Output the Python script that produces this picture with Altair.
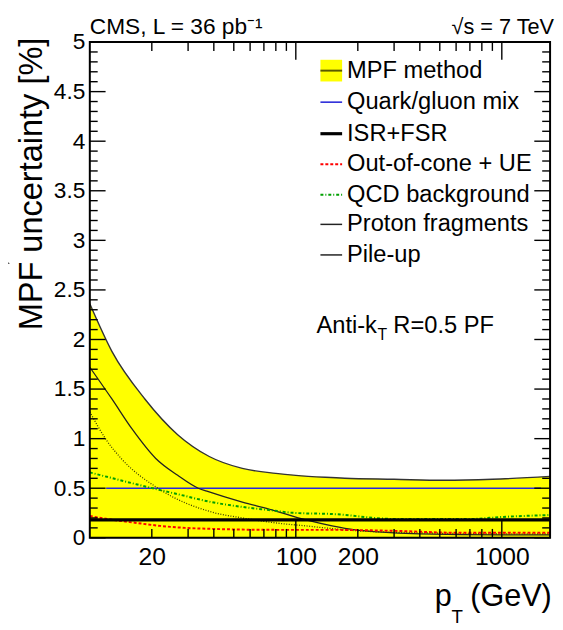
import altair as alt
import pandas as pd

FONT = "Liberation Sans"
W, H = 467, 503

# ---- data ----
band_pt = [10, 12.8, 18.5, 26.7, 38, 55, 80, 100, 139, 173, 300, 520, 900, 1715]
band_val = [2.36, 1.88, 1.40, 1.04, 0.82, 0.70, 0.65, 0.63, 0.61, 0.60, 0.59, 0.58, 0.59, 0.62]

qg_pt = [12, 1550]
qg_val = [0.50, 0.50]

isr_pt = [10, 1715]
isr_val = [0.18, 0.18]

ooc_pt = [10, 13, 16.8, 22, 29, 39, 80, 150, 300, 630, 1715]
ooc_val = [0.22, 0.18, 0.15, 0.12, 0.10, 0.09, 0.08, 0.08, 0.07, 0.05, 0.05]

qcd_pt = [10, 16.8, 26.7, 39, 55.6, 74, 100, 150, 300, 700, 1000, 1715]
qcd_val = [0.66, 0.54, 0.44, 0.36, 0.31, 0.28, 0.25, 0.24, 0.19, 0.19, 0.21, 0.23]

proton_pt = [10, 12.8, 16, 20.9, 26.7, 33.6, 37, 55, 74, 112, 150, 194, 250, 400, 1000, 1715]
proton_val = [1.72, 1.40, 1.10, 0.80, 0.63, 0.50, 0.47, 0.36, 0.29, 0.18, 0.12, 0.08, 0.06, 0.04, 0.03, 0.03]

pileup_pt = [10, 12, 14.2, 21.4, 39, 55, 80, 112, 139, 200, 400, 1000, 1715]
pileup_val = [1.27, 0.99, 0.80, 0.50, 0.26, 0.20, 0.15, 0.12, 0.10, 0.07, 0.05, 0.04, 0.04]

x_labels = [20, 100, 200, 1000]
y_labels = [0, 0.5, 1, 1.5, 2, 2.5, 3, 3.5, 4, 4.5, 5]
x_major = [100, 1000]
x_minor = [20, 30, 40, 50, 60, 70, 80, 90, 200, 300, 400, 500, 600, 700, 800, 900]
y_minor = [round(0.1 * i, 1) for i in range(51) if i % 5]

legend_labels = ["MPF method", "Quark/gluon mix", "ISR+FSR", "Out-of-cone + UE",
                 "QCD background", "Proton fragments", "Pile-up"]

# ---- scales / axes ----
xs = alt.Scale(type="log", domain=[10, 1715], nice=False)
ys = alt.Scale(domain=[0, 5], nice=False)
xaxis = alt.Axis(values=x_labels, format="d", ticks=False, domain=False, grid=False,
                 labelFontSize=25, labelPadding=7, labelFont=FONT, labelColor="black",
                 title=None, labelFlush=False)
yaxis = alt.Axis(values=y_labels, format="~g", ticks=False, domain=False, grid=False,
                 labelFontSize=23, labelPadding=5, labelFont=FONT, labelColor="black",
                 title=None)

def X(f="pt"):
    return alt.X(f"{f}:Q", scale=xs, axis=xaxis)

def Y(f="v"):
    return alt.Y(f"{f}:Q", scale=ys, axis=yaxis)

def df(pt, v):
    return pd.DataFrame({"pt": pt, "v": v})

dummy = pd.DataFrame({"a": [0]})

band = alt.Chart(df(band_pt, band_val)).mark_area(
    color="#ffff00", interpolate="monotone", clip=True).encode(x=X(), y=Y())
band_edge = alt.Chart(df(band_pt, band_val)).mark_line(
    color="#333333", strokeWidth=1.4, interpolate="monotone", clip=True).encode(x=X(), y=Y())

def line(pt, v, color, width, dash=None):
    kw = dict(color=color, strokeWidth=width, interpolate="monotone", clip=True)
    if dash is not None:
        kw["strokeDash"] = dash
    return alt.Chart(df(pt, v)).mark_line(**kw).encode(x=X(), y=Y())

qg = line(qg_pt, qg_val, "#2a2ad8", 1.6)
proton = line(proton_pt, proton_val, "#222222", 1.3)
pileup = line(pileup_pt, pileup_val, "#3a3a00", 1.3, [1, 1.6])
qcd = line(qcd_pt, qcd_val, "#00a000", 2, [3, 2, 1, 2])
ooc = line(ooc_pt, ooc_val, "#ff0000", 2, [3, 2])
isr = line(isr_pt, isr_val, "#000000", 3.2)

# ---- inward ticks (ROOT style) ----
def yticks(vals, length, left=True):
    x0, x1 = (0, length) if left else (W - length, W)
    return alt.Chart(pd.DataFrame({"v": vals})).mark_rule(color="black", strokeWidth=1.4).encode(
        y=Y(), x=alt.value(x0), x2=alt.value(x1))

def xticks(vals, length, bottom=True):
    y0, y1 = (H - length, H) if bottom else (0, length)
    return alt.Chart(pd.DataFrame({"pt": vals})).mark_rule(color="black", strokeWidth=1.4).encode(
        x=X(), y=alt.value(y0), y2=alt.value(y1))

ticks = [
    yticks(y_labels, 16, True), yticks(y_minor, 8, True),
    yticks(y_labels, 16, False), yticks(y_minor, 8, False),
    xticks(x_major, 18, True), xticks(x_minor, 9, True),
    xticks(x_major, 18, False), xticks(x_minor, 9, False),
]

frame = alt.Chart(dummy).mark_rect(filled=False, stroke="black", strokeWidth=2).encode(
    x=alt.value(0), x2=alt.value(W), y=alt.value(0), y2=alt.value(H))

def txt(t, x, y, size, align="left", baseline="alphabetic", angle=0):
    kw = dict(text=t, align=align, baseline=baseline, fontSize=size, font=FONT, color="black")
    if angle:
        kw["angle"] = angle
    return alt.Chart(dummy).mark_text(**kw).encode(x=alt.value(x), y=alt.value(y))

OX, OY = 91, 38  # plot origin in page pixels
texts = [
    txt("CMS, L = 36 pb\u207b\u00b9", 91 - OX, 30 - OY, 23),
    txt("\u221as = 7 TeV", 562 - OX, 30 - OY, 22, align="right"),
    txt("Anti-k", 321 - OX, 333 - OY, 24),
    txt("T", 383 - OX, 340 - OY, 16),
    txt("R=0.5 PF", 399 - OX, 333 - OY, 24),
    txt("MPF uncertainty [%]", 32 - OX, 182 - OY, 33, align="center", baseline="middle", angle=270),
    txt("p", 441 - OX, 610 - OY, 31),
    txt("T", 458 - OX, 627 - OY, 19),
    txt("(GeV)", 477 - OX, 610 - OY, 31),
]

arrow = alt.Chart(dummy).mark_point(
    shape="M -1 -0.7 L 1 0.1 L -1 0.5 Z", filled=True, color="black", opacity=1, size=100
).encode(x=alt.value(5 - OX), y=alt.value(262 - OY))

# ---- legend ----
rows = [67, 99, 131, 162, 193, 223, 254]
sx0, sx1 = 325 - OX, 347 - OX
leg = []
leg.append(alt.Chart(dummy).mark_rect(color="#ffff00").encode(
    x=alt.value(sx0), x2=alt.value(sx1), y=alt.value(rows[0] - 11 - OY), y2=alt.value(rows[0] + 11 - OY)))
styles = [
    ("#5a5a00", 2, None),
    ("#2a2ad8", 1.6, None),
    ("#000000", 3.2, None),
    ("#ff0000", 2, [3, 2]),
    ("#00a000", 2, [3, 2, 1, 2]),
    ("#222222", 1.5, None),
    ("#222222", 1.5, None),
]
for r, lab, (c, w, d) in zip(rows, legend_labels, styles):
    kw = dict(color=c, strokeWidth=w)
    if d is not None:
        kw["strokeDash"] = d
    leg.append(alt.Chart(dummy).mark_rule(**kw).encode(
        x=alt.value(sx0), x2=alt.value(sx1), y=alt.value(r - OY)))
    leg.append(txt(lab, 352 - OX, r - OY, 24, baseline="middle"))

chart = alt.layer(
    band, qg, proton, pileup, qcd, ooc, isr, band_edge, *ticks, frame, *texts, arrow, *leg
).properties(
    width=W, height=H,
    autosize=alt.AutoSizeParams(type="none"),
    padding={"left": 83, "top": 30, "right": 5, "bottom": 88},
).configure_view(stroke=None).configure(background="white")

chart.save("out.html", embed_options={"renderer": "svg", "actions": False})
